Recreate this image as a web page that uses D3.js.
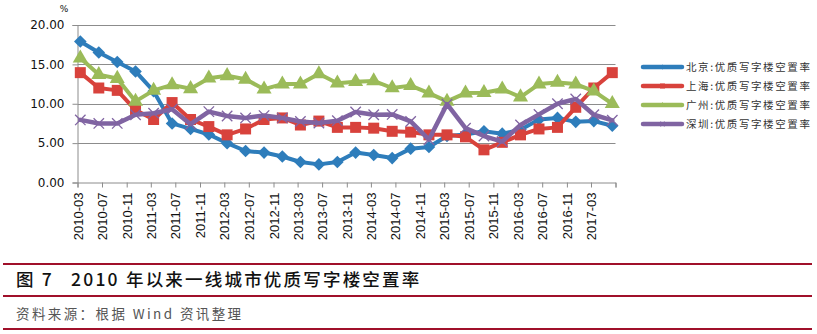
<!DOCTYPE html>
<html>
<head>
<meta charset="utf-8">
<script src="https://cdn.jsdelivr.net/npm/d3@7"></script>
<style>
  html, body { margin: 0; padding: 0; background: #fff; }
  svg { display: block; }
</style>
</head>
<body>
<svg id="chart" width="817" height="334"></svg>
<script>
// ---------- data ----------
const quarters = [
  "2010-03","2010-06","2010-09","2010-12",
  "2011-03","2011-06","2011-09","2011-12",
  "2012-03","2012-06","2012-09","2012-12",
  "2013-03","2013-06","2013-09","2013-12",
  "2014-03","2014-06","2014-09","2014-12",
  "2015-03","2015-06","2015-09","2015-12",
  "2016-03","2016-06","2016-09","2016-12",
  "2017-03","2017-06"
];
const beijing   = [17.9,16.5,15.3,14.1,11.6,7.5,6.8,6.1,5.0,4.0,3.8,3.3,2.6,2.3,2.6,3.8,3.5,3.1,4.3,4.5,5.9,6.1,6.5,6.2,6.7,8.0,8.2,7.7,7.8,7.2];
const shanghai  = [13.95,12.0,11.7,9.2,8.0,10.15,8.0,7.1,6.05,6.8,8.0,8.2,7.3,7.8,7.0,7.0,6.9,6.5,6.4,6.05,6.05,5.8,4.15,5.1,6.05,6.8,7.0,9.55,12.0,13.95];
const guangzhou = [15.8,13.7,13.2,10.3,11.7,12.4,11.9,13.25,13.55,13.1,11.85,12.5,12.5,13.8,12.6,12.8,12.9,12.0,12.3,11.35,10.3,11.35,11.4,11.85,10.85,12.5,12.7,12.5,11.6,10.0];
const shenzhen  = [7.95,7.5,7.5,8.6,8.8,9.3,7.4,9.0,8.45,8.2,8.5,8.2,7.75,7.55,7.85,8.95,8.6,8.65,7.75,5.45,9.95,6.9,5.9,5.2,7.3,8.65,10.0,10.6,8.6,7.9];
const seriesNames = ["北京:优质写字楼空置率","上海:优质写字楼空置率","广州:优质写字楼空置率","深圳:优质写字楼空置率"];
const xTickLabels = [
  "2010-03","2010-07","2010-11","2011-03","2011-07","2011-11",
  "2012-03","2012-07","2012-11","2013-03","2013-07","2013-11",
  "2014-03","2014-07","2014-11","2015-03","2015-07","2015-11",
  "2016-03","2016-07","2016-11","2017-03"
];
const xEnd = "2017-07";
const yTicks = [0, 5, 10, 15, 20];
const unitLabel = "%";
const titleText = "图 7\u2002 2010 年以来一线城市优质写字楼空置率";
const sourceText = "资料来源：根据 Wind 资讯整理";

// ---------- chart ----------
const svg = d3.select("#chart");
const parseM = d3.timeParse("%Y-%m");
const mid = s => d3.timeDay.offset(parseM(s), 14);

const x = d3.scaleTime()
  .domain([parseM(xTickLabels[0]), parseM(xEnd)])
  .range([77.5, 615.5]);
const y = d3.scaleLinear().domain([0, 20]).range([182.5, 25]);

const gridColor = "#8c8c8c";

// grid lines
svg.append("g").selectAll("line").data(yTicks.filter(d => d > 0)).join("line")
  .attr("x1", x.range()[0]).attr("x2", x.range()[1])
  .attr("y1", d => Math.round(y(d)) + 0.5).attr("y2", d => Math.round(y(d)) + 0.5)
  .attr("stroke", gridColor).attr("stroke-width", 1);

// y axis
const yAxis = svg.append("g").attr("transform", `translate(${x.range()[0]},0)`)
  .call(d3.axisLeft(y).tickValues(yTicks).tickFormat(d3.format(".2f")).tickSize(5).tickPadding(8));
yAxis.select(".domain").attr("stroke", gridColor);
yAxis.selectAll(".tick line").attr("stroke", gridColor);
yAxis.selectAll("text").attr("font-family", "DejaVu Sans, Verdana, sans-serif")
  .attr("font-size", 12).attr("fill", "#111");

svg.append("text").attr("x", 64).attr("y", 12).attr("text-anchor", "middle")
  .attr("font-family", "DejaVu Sans, sans-serif").attr("font-size", 9).attr("fill", "#111")
  .text(unitLabel);

// x axis
const tickDates = xTickLabels.map(parseM).concat([parseM(xEnd)]);
const xAxis = svg.append("g").attr("transform", `translate(0,${y(0)})`)
  .call(d3.axisBottom(x).tickValues(tickDates)
    .tickFormat((d, i) => i < xTickLabels.length ? xTickLabels[i] : "")
    .tickSize(5).tickPadding(6));
xAxis.select(".domain").attr("stroke", gridColor);
xAxis.selectAll(".tick line").attr("stroke", gridColor);
xAxis.selectAll("text")
  .attr("font-family", "Liberation Sans, Arial, sans-serif").attr("font-size", 13).attr("fill", "#111")
  .attr("transform", "rotate(-90)")
  .attr("text-anchor", "end")
  .attr("x", -10).attr("y", 0).attr("dy", "0.35em");

// series
const series = [
  {name: seriesNames[0], values: beijing,   color: "#2e7dbb", marker: "diamond", width: 4},
  {name: seriesNames[1], values: shanghai,  color: "#d8423c", marker: "square",  width: 4},
  {name: seriesNames[2], values: guangzhou, color: "#9bbb59", marker: "triangle",width: 4},
  {name: seriesNames[3], values: shenzhen,  color: "#8064a2", marker: "x",       width: 4.5}
];

const line = d3.line().x(d => x(mid(d.q))).y(d => y(d.v));

function drawMarker(g, type, color, size) {
  if (type === "diamond") {
    g.append("path").attr("d", d3.symbol(d3.symbolDiamond2 || d3.symbolDiamond, size * size * 0.6)())
      .attr("fill", color);
  } else if (type === "square") {
    g.append("path").attr("d", d3.symbol(d3.symbolSquare, size * size)()).attr("fill", color);
  } else if (type === "triangle") {
    g.append("path").attr("d", d3.symbol(d3.symbolTriangle, size * size * 0.5)()).attr("fill", color);
  } else {
    g.append("path").attr("d", d3.symbol(d3.symbolX, size * size * 0.6)())
      .attr("fill", "none").attr("stroke", color).attr("stroke-width", 1.3);
  }
}

series.forEach(s => {
  const pts = s.values.map((v, i) => ({q: quarters[i], v}));
  const g = svg.append("g");
  g.append("path").datum(pts).attr("d", line)
    .attr("fill", "none").attr("stroke", s.color).attr("stroke-width", s.width)
    .attr("stroke-linejoin", "round").attr("stroke-linecap", "round");
  const sizes = {diamond: 13, square: 11, triangle: 14, x: 11};
  g.selectAll("g.m").data(pts).join("g").attr("class", "m")
    .attr("transform", d => `translate(${x(mid(d.q))},${y(d.v)})`)
    .each(function() { drawMarker(d3.select(this), s.marker, s.color, sizes[s.marker]); });
});

// legend
const legend = svg.append("g");
const legendY = [67, 86, 105, 124];
series.forEach((s, i) => {
  const g = legend.append("g").attr("transform", `translate(0,${legendY[i]})`);
  g.append("line").attr("x1", 643).attr("x2", 682).attr("y1", 0).attr("y2", 0)
    .attr("stroke", s.color).attr("stroke-width", 4.5).attr("stroke-linecap", "round");
  const mg = g.append("g").attr("transform", "translate(662.5,0)");
  drawMarker(mg, s.marker, s.color, 5);
  g.append("text").attr("x", 686).attr("y", 0).attr("dy", "0.36em")
    .attr("font-family", "Noto Sans CJK SC, sans-serif").attr("font-size", 10.5)
    .attr("letter-spacing", 1.6).attr("fill", "#333").text(s.name);
});

// caption block
const capColor = "#a0102a";
[264, 296, 329].forEach(yy => {
  svg.append("line").attr("x1", 3).attr("x2", 812).attr("y1", yy).attr("y2", yy)
    .attr("stroke", capColor).attr("stroke-width", 2);
});
svg.append("text").attr("x", 16).attr("y", 286)
  .attr("font-family", "Noto Sans CJK SC, sans-serif").attr("font-size", 17.5)
  .attr("font-weight", 500).attr("fill", "#111").attr("letter-spacing", 2.2)
  .text(titleText);
svg.append("text").attr("x", 16).attr("y", 319)
  .attr("font-family", "Noto Sans CJK SC, sans-serif").attr("font-size", 13.5)
  .attr("fill", "#555").attr("letter-spacing", 2.4)
  .text(sourceText);
</script>
</body>
</html>
